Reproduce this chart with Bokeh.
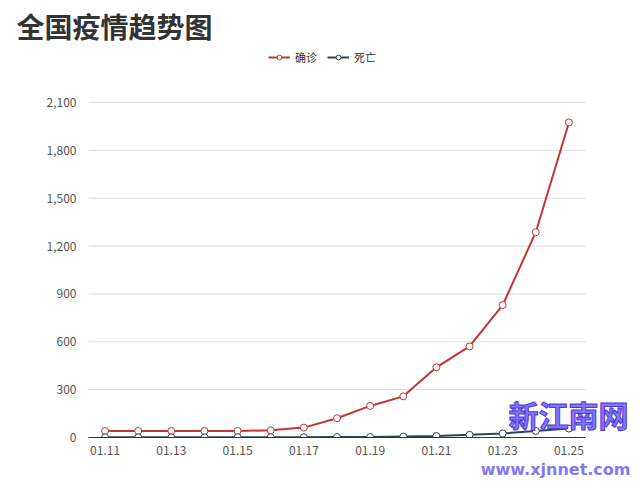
from bokeh.plotting import figure
from bokeh.models import (ColumnDataSource, FixedTicker, NumeralTickFormatter,
                          Legend, LegendItem, Label, Range1d, Title)
from bokeh.embed import file_html
from bokeh.resources import INLINE

dates = ["01.11", "01.12", "01.13", "01.14", "01.15", "01.16", "01.17", "01.18",
         "01.19", "01.20", "01.21", "01.22", "01.23", "01.24", "01.25"]
confirmed = [41, 41, 41, 41, 41, 45, 62, 121, 198, 258, 440, 571, 830, 1287, 1975]
deaths = [1, 1, 1, 1, 2, 2, 2, 3, 3, 6, 9, 17, 25, 41, 56]
y_ticks = [0, 300, 600, 900, 1200, 1500, 1800, 2100]
title_text = "全国疫情趋势图"
series_names = ["确诊", "死亡"]
colors = ["#c23531", "#2f4554"]

FONT = "Noto Sans CJK SC"

TOP = 48          # frame top (px); x axis at 437px; 2100 at 102px
Y_TOP = 2100 * (437 - TOP) / 335
X_LO, X_HI = -0.5, len(dates) - 0.5
X_RIGHT = X_LO + 15 * (640 - 88) / 497

idx = list(range(len(dates)))
src = ColumnDataSource(dict(x=idx, confirmed=confirmed, deaths=deaths))
grid_src = ColumnDataSource(dict(y=y_ticks, x0=[X_LO] * len(y_ticks),
                                 x1=[X_HI] * len(y_ticks)))

p = figure(width=640, height=482, output_backend="svg", toolbar_location=None,
           x_range=Range1d(X_LO, X_RIGHT), y_range=Range1d(0, Y_TOP),
           min_border_left=88, min_border_right=0, min_border_bottom=45,
           min_border_top=TOP)
p.outline_line_color = None

t = Title(text=title_text, text_font=FONT, text_font_size="28px",
          text_font_style="bold", text_color="#333333", align="left",
          offset=-72, standoff=5)
p.add_layout(t, "above")

# horizontal grid lines limited to the category band
p.segment(x0="x0", x1="x1", y0="y", y1="y", source=grid_src,
          line_color="#dcdcdc", line_width=1)

items = []
for key, name, c in zip(["confirmed", "deaths"], series_names, colors):
    l = p.line("x", key, source=src, line_color=c, line_width=2)
    s = p.scatter("x", key, source=src, size=7, marker="circle",
                  fill_color="white", line_color=c, line_width=1)
    items.append(LegendItem(label=name, renderers=[l, s]))

legend = Legend(items=items, orientation="horizontal", location=(180, 372),
                label_text_font=FONT, label_text_font_size="11px",
                label_text_color="#333333", glyph_width=22, glyph_height=12,
                spacing=10, padding=2, margin=0, border_line_color=None,
                background_fill_alpha=0, label_standoff=5)
p.add_layout(legend)

p.yaxis.ticker = FixedTicker(ticks=y_ticks)
p.yaxis.formatter = NumeralTickFormatter(format="0,0")
p.yaxis.axis_line_color = None
p.yaxis.major_tick_line_color = None
p.yaxis.minor_tick_line_color = None
p.yaxis.major_label_text_font = FONT
p.yaxis.major_label_text_font_size = "12px"
p.yaxis.major_label_text_color = "#555555"
p.yaxis.major_label_standoff = 6

p.xaxis.ticker = FixedTicker(ticks=idx[::2])
p.xaxis.bounds = (X_LO, X_HI)
p.xaxis.major_label_overrides = {i: d for i, d in zip(idx, dates)}
p.xaxis.axis_line_color = "#333333"
p.xaxis.axis_line_width = 1
p.xaxis.major_tick_line_color = None
p.xaxis.minor_tick_line_color = None
p.xaxis.major_label_text_font = FONT
p.xaxis.major_label_text_font_size = "12px"
p.xaxis.major_label_text_color = "#555555"
p.xaxis.major_label_standoff = 2

p.xgrid.grid_line_color = None
p.ygrid.grid_line_color = None

wm1 = Label(x=420, y=2, x_units="screen", y_units="screen", text="新江南网",
            text_font=FONT, text_font_size="30px", text_font_style="bold",
            text_color="#8576f7", text_outline_color="#4a3ad8")
p.add_layout(wm1)

wm2 = Title(text="www.xjnnet.com", text_font="DejaVu Sans", text_font_size="16px",
            text_font_style="bold", text_color="#8576f7", align="right",
            offset=10, standoff=0)
p.add_layout(wm2, "below")

open("out.html", "w").write(file_html(p, INLINE))
